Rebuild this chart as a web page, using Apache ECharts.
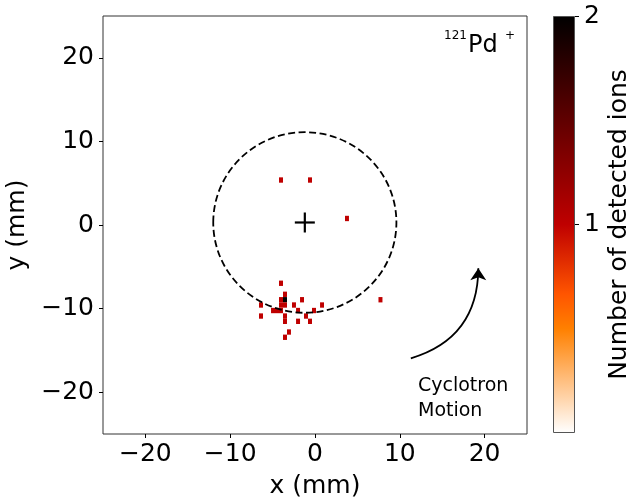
<!DOCTYPE html>
<html>
<head>
<meta charset="utf-8">
<script src="https://cdn.jsdelivr.net/npm/echarts@6/dist/echarts.min.js"></script>
<style>
  html, body { margin: 0; padding: 0; background: #fff; }
  #chart { width: 631px; height: 497px; }
</style>
</head>
<body>
<div id="chart"></div>
<script>
// Detected ion positions on the detector (bin centres, mm) and counts per bin
const hitX = [-4.01, -0.59, 3.77,
  -4.01,
  -3.54,
  -4.01, -3.54, -1.53, 7.72,
  -6.37, -4.01, -3.54, -2.48, 0.83,
  -4.95, -4.48, -4.01, -2.00, -0.12,
  -6.37, -3.54, -1.06,
  -3.54, -2.00, -0.59,
  -3.07,
  -3.54];
const hitY = [5.38, 5.38, 0.78,
  -6.97,
  -8.29,
  -8.94, -8.94, -8.94, -8.94,
  -9.57, -9.57, -9.57, -9.57, -9.57,
  -10.23, -10.23, -10.23, -10.23, -10.23,
  -10.89, -10.89, -10.89,
  -11.52, -11.52, -11.52,
  -12.80,
  -13.43];
const hitCount = [1, 1, 1,
  1,
  1,
  1, 2, 1, 1,
  1, 1, 1, 1, 1,
  1, 1, 1, 1, 1,
  1, 1, 1,
  1, 1, 1,
  1,
  1];

// Histogram bin size (mm)
const binW = 0.47;
const binH = 0.64;

// Expected cyclotron orbit: centre (mm) and radius (mm)
const orbitCenter = [-1.2, 0.3];
const orbitRadius = 10.8;

// Cyclotron-motion arrow: start and end (mm)
const arrowStart = [11.3, -15.95];
const arrowEnd = [19.26, -5.18];

// Axis ranges and ticks
const axisRange = [-25, 25];
const axisTicks = [-20, -10, 0, 10, 20];
const countRange = [0, 2];
const countTicks = [1, 2];

const FONT = 'DejaVu Sans';

// Reversed "gist_heat" colour map, t in [0, 1]
function gistHeatR(t) {
  const x = 1 - Math.max(0, Math.min(1, t));
  const r = Math.min(1, 1.5 * x);
  const g = Math.max(0, Math.min(1, 2 * x - 1));
  const b = Math.max(0, Math.min(1, 4 * x - 3));
  return 'rgb(' + Math.round(r * 255) + ',' + Math.round(g * 255) + ',' + Math.round(b * 255) + ')';
}

const gradientStops = [];
for (let k = 0; k <= 24; k++) {
  gradientStops.push({ offset: k / 24, color: gistHeatR(k / 24) });
}

const minus = v => String(v).replace('-', '\u2212');

const chart = echarts.init(document.getElementById('chart'), null, { renderer: 'canvas' });

chart.setOption({
  animation: false,
  backgroundColor: '#fff',
  textStyle: { fontFamily: FONT },
  grid: [
    { left: 103, top: 16, width: 424, height: 418, show: true, borderColor: '#333', borderWidth: 1,
      backgroundColor: 'transparent', outerBoundsMode: 'none', containLabel: false },
    { left: 553, top: 16, width: 22, height: 417, show: false, outerBoundsMode: 'none', containLabel: false }
  ],
  xAxis: [
    {
      type: 'value', gridIndex: 0, min: axisRange[0], max: axisRange[1], position: 'bottom',
      name: 'x (mm)', nameLocation: 'middle', nameGap: 40,
      nameTextStyle: { fontSize: 25, color: '#000', fontFamily: FONT },
      axisLine: { show: false, onZero: false },
      splitLine: { show: false },
      axisTick: { show: true, customValues: axisTicks, length: 4, lineStyle: { color: '#000', width: 1 } },
      axisLabel: { customValues: axisTicks, formatter: minus, fontSize: 25, color: '#000', margin: 8, fontFamily: FONT }
    },
    {
      type: 'category', gridIndex: 1, data: ['n'], show: false,
      axisTick: { show: false }, axisLine: { show: false, onZero: false }
    }
  ],
  yAxis: [
    {
      type: 'value', gridIndex: 0, min: axisRange[0], max: axisRange[1], position: 'left',
      name: 'y (mm)', nameLocation: 'middle', nameGap: 72, nameRotate: 90,
      nameTextStyle: { fontSize: 25, color: '#000', fontFamily: FONT },
      axisLine: { show: false, onZero: false },
      splitLine: { show: false },
      axisTick: { show: true, customValues: axisTicks, length: 4, lineStyle: { color: '#000', width: 1 } },
      axisLabel: { customValues: axisTicks, formatter: minus, fontSize: 25, color: '#000', margin: 9, fontFamily: FONT }
    },
    {
      type: 'value', gridIndex: 1, position: 'right', min: countRange[0], max: countRange[1],
      name: 'Number of detected ions', nameLocation: 'middle', nameGap: 32, nameRotate: 90,
      nameTextStyle: { fontSize: 25, color: '#000', fontFamily: FONT },
      axisLine: { show: false, onZero: false },
      splitLine: { show: false },
      axisTick: { show: true, customValues: countTicks, length: 4, lineStyle: { color: '#000', width: 1 } },
      axisLabel: { customValues: countTicks, fontSize: 25, color: '#000', margin: 9, fontFamily: FONT }
    }
  ],
  series: [
    {
      // binned ion hits
      type: 'custom',
      coordinateSystem: 'cartesian2d',
      xAxisIndex: 0, yAxisIndex: 0,
      data: hitX.map((x, i) => [x, hitY[i], hitCount[i]]),
      encode: { x: 0, y: 1 },
      clip: true,
      renderItem(params, api) {
        const x = api.value(0), y = api.value(1), n = api.value(2);
        const p0 = api.coord([x - binW / 2, y + binH / 2]);
        const p1 = api.coord([x + binW / 2, y - binH / 2]);
        return {
          type: 'rect',
          shape: { x: p0[0], y: p0[1], width: p1[0] - p0[0], height: p1[1] - p0[1] },
          style: { fill: gistHeatR((n - countRange[0]) / (countRange[1] - countRange[0])) }
        };
      }
    },
    {
      // expected orbit (dashed) and its centre
      type: 'custom',
      coordinateSystem: 'cartesian2d',
      xAxisIndex: 0, yAxisIndex: 0,
      data: [[orbitCenter[0], orbitCenter[1], orbitRadius]],
      encode: { x: 0, y: 1 },
      z: 3,
      renderItem(params, api) {
        const c = api.coord([api.value(0), api.value(1)]);
        const r = api.value(2);
        const rx = api.size([r, 0])[0];
        const ry = api.size([0, r])[1];
        const arm = 10;
        return {
          type: 'group',
          children: [
            {
              type: 'ellipse',
              shape: { cx: c[0], cy: c[1], rx: rx, ry: ry },
              style: { fill: 'none', stroke: '#000', lineWidth: 1.8, lineDash: [7, 3.5] }
            },
            {
              type: 'line',
              shape: { x1: c[0] - arm, y1: c[1], x2: c[0] + arm, y2: c[1] },
              style: { stroke: '#000', lineWidth: 2.2 }
            },
            {
              type: 'line',
              shape: { x1: c[0], y1: c[1] - arm, x2: c[0], y2: c[1] + arm },
              style: { stroke: '#000', lineWidth: 2.2 }
            }
          ]
        };
      }
    },
    {
      // cyclotron motion arrow
      type: 'lines',
      coordinateSystem: 'cartesian2d',
      xAxisIndex: 0, yAxisIndex: 0,
      z: 4,
      symbol: ['none', 'arrow'],
      symbolSize: [7, 12],
      lineStyle: { color: '#000', width: 1.8, curveness: -0.37, opacity: 1 },
      data: [{ coords: [arrowStart, arrowEnd] }]
    },
    {
      // colour bar
      type: 'bar',
      xAxisIndex: 1, yAxisIndex: 1,
      data: [countRange[1]],
      barWidth: '100%',
      silent: true,
      itemStyle: {
        color: new echarts.graphic.LinearGradient(0, 1, 0, 0, gradientStops),
        borderColor: '#555',
        borderWidth: 1
      }
    }
  ],
  graphic: [
    {
      type: 'text', left: 418, top: 374,
      style: { text: 'Cyclotron\nMotion', font: '19px "DejaVu Sans"', fill: '#000', lineHeight: 25 }
    },
    {
      type: 'text', right: 631 - 467, top: 30,
      style: { text: '121', font: '12px "DejaVu Sans"', fill: '#000' }
    },
    {
      type: 'text', left: 468, top: 34,
      style: { text: 'Pd', font: '24px "DejaVu Sans"', fill: '#000' }
    },
    {
      type: 'text', left: 505, top: 30,
      style: { text: '+', font: '12px "DejaVu Sans"', fill: '#000' }
    }
  ]
});
</script>
</body>
</html>
